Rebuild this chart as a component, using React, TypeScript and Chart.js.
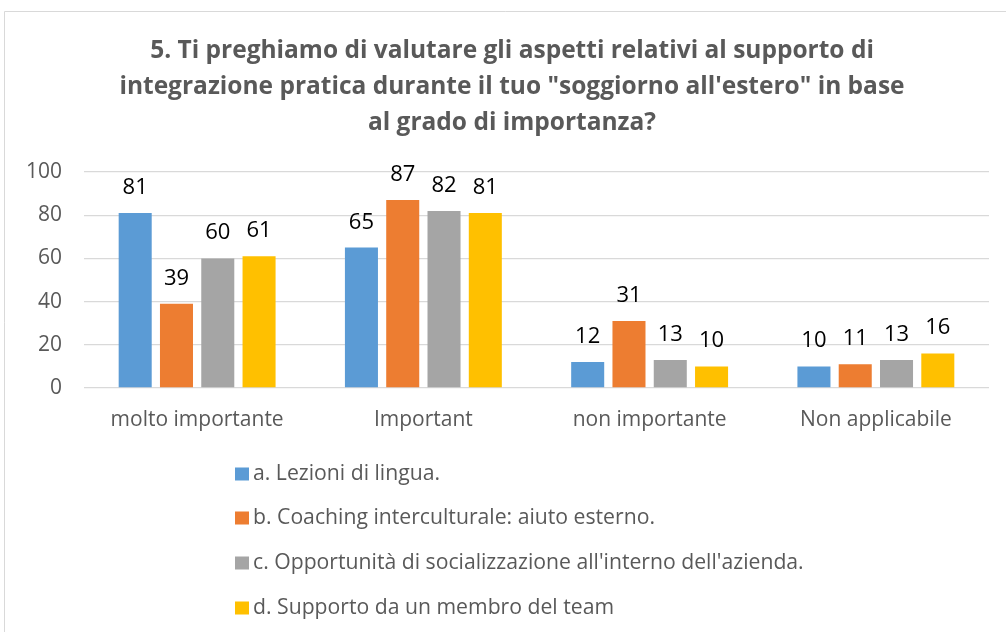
import React, { useEffect, useRef } from 'react';
import { Chart, registerables } from 'chart.js';

Chart.register(...registerables);

const titleLines = [
  '5. Ti preghiamo di valutare gli aspetti relativi al supporto di',
  'integrazione pratica durante il tuo "soggiorno all\'estero" in base',
  'al grado di importanza?',
];
const categories = ['molto importante', 'Important', 'non importante', 'Non applicabile'];
const seriesLabels = [
  'a. Lezioni di lingua.',
  'b. Coaching interculturale: aiuto esterno.',
  "c. Opportunità di socializzazione all'interno dell'azienda.",
  'd. Supporto da un membro del team',
];
const lezioni = [81, 65, 12, 10];
const coaching = [39, 87, 31, 11];
const opportunita = [60, 82, 13, 13];
const supporto = [61, 81, 10, 16];
const seriesValues = [lezioni, coaching, opportunita, supporto];
const seriesColors = ['#5B9BD5', '#ED7D31', '#A5A5A5', '#FFC000'];
const yMin = 0;
const yMax = 100;
const yStep = 20;

const FONT = '"Open Sans", Lato, sans-serif';
const TEXT = '#595959';
const GRID = '#D9D9D9';

const framePlugin = {
  id: 'frame',
  beforeDraw(chart: any) {
    const ctx = chart.ctx;
    ctx.save();
    ctx.fillStyle = '#ffffff';
    ctx.fillRect(0, 0, chart.width, chart.height);
    ctx.strokeStyle = GRID;
    ctx.lineWidth = 1;
    ctx.beginPath();
    ctx.moveTo(4.5, chart.height + 2);
    ctx.lineTo(4.5, 11.5);
    ctx.lineTo(chart.width + 2, 11.5);
    ctx.stroke();
    ctx.restore();
  },
};

const titlePlugin = {
  id: 'customTitle',
  afterDraw(chart: any) {
    const ctx = chart.ctx;
    ctx.save();
    ctx.fillStyle = TEXT;
    ctx.font = `bold 24.5px ${FONT}`;
    ctx.textAlign = 'center';
    ctx.textBaseline = 'middle';
    const ys = [51, 87, 123];
    titleLines.forEach((line, i) => ctx.fillText(line, 512, ys[i]));
    ctx.restore();
  },
};

const dataLabelPlugin = {
  id: 'dataLabels',
  afterDatasetsDraw(chart: any) {
    const ctx = chart.ctx;
    ctx.save();
    ctx.fillStyle = '#000000';
    ctx.font = `22px ${FONT}`;
    ctx.textAlign = 'center';
    ctx.textBaseline = 'alphabetic';
    chart.data.datasets.forEach((ds: any, di: number) => {
      const meta = chart.getDatasetMeta(di);
      meta.data.forEach((el: any, i: number) => {
        ctx.fillText(String(ds.data[i]), el.x, el.y - 19);
      });
    });
    ctx.restore();
  },
};

const legendPlugin = {
  id: 'customLegend',
  afterDraw(chart: any) {
    const ctx = chart.ctx;
    ctx.save();
    ctx.font = `21.2px ${FONT}`;
    ctx.textAlign = 'left';
    ctx.textBaseline = 'middle';
    const ys = [474, 518, 563, 608];
    seriesLabels.forEach((label, i) => {
      ctx.fillStyle = seriesColors[i];
      ctx.fillRect(235, ys[i] - 6.5, 14, 13);
      ctx.fillStyle = TEXT;
      ctx.fillText(label, 253, ys[i]);
    });
    ctx.restore();
  },
};

export default function App() {
  const ref = useRef<HTMLCanvasElement>(null);
  useEffect(() => {
    const chart = new Chart(ref.current as HTMLCanvasElement, {
      type: 'bar',
      data: {
        labels: categories,
        datasets: seriesLabels.map((label, i) => ({
          label,
          data: seriesValues[i],
          backgroundColor: seriesColors[i],
          borderWidth: 0,
          categoryPercentage: 0.73,
          barPercentage: 0.8,
        })),
      },
      options: {
        responsive: false,
        animation: false,
        devicePixelRatio: 1,
        layout: { padding: { top: 172, left: 24, right: 17, bottom: 200 } },
        plugins: {
          legend: { display: false },
          title: { display: false },
          tooltip: { enabled: false },
        },
        scales: {
          x: {
            grid: { display: false, drawTicks: false },
            border: { display: false },
            ticks: { color: TEXT, font: { family: FONT, size: 21 }, padding: 19 },
            afterFit: (s: any) => {
              s.height = 44;
            },
          },
          y: {
            min: yMin,
            max: yMax,
            ticks: { stepSize: yStep, color: TEXT, font: { family: FONT, size: 21 }, padding: 22 },
            grid: { color: GRID, lineWidth: 1.3, drawTicks: false },
            border: { display: false },
            afterFit: (s: any) => {
              s.width = 60;
            },
          },
        },
      },
      plugins: [framePlugin, dataLabelPlugin, titlePlugin, legendPlugin],
    } as any);
    return () => chart.destroy();
  }, []);
  return (
    <div style={{ position: 'fixed', left: 0, top: 0, width: 1006, height: 632, background: '#fff' }}>
      <canvas ref={ref} width={1006} height={632} style={{ display: 'block', width: 1006, height: 632 }} />
    </div>
  );
}
